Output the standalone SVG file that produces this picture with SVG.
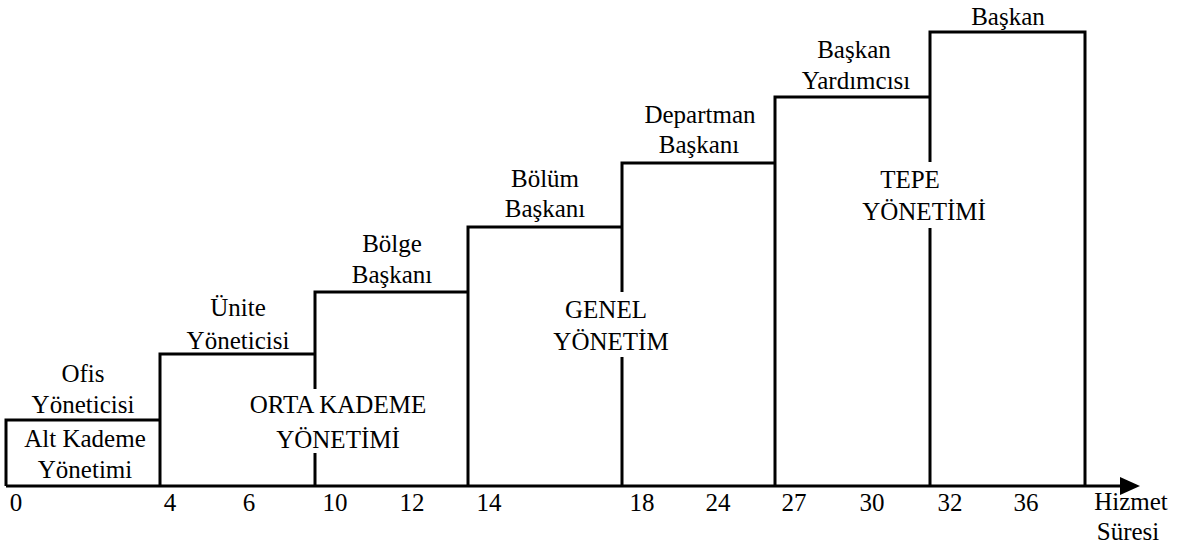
<svg xmlns="http://www.w3.org/2000/svg" width="1177" height="551" viewBox="0 0 1177 551">
  <style>
    .step { fill: none; stroke: #000; stroke-width: 3; stroke-linejoin: miter; }
    text { font-family: 'Liberation Serif', 'Times New Roman', serif; font-size: 25px; fill: #000; text-anchor: middle; }
  </style>
  <defs>
    <marker id="arrow" viewBox="0 0 20 18" refX="0" refY="9" markerWidth="20" markerHeight="18" markerUnits="userSpaceOnUse" orient="auto">
      <path d="M0,0 L20,9 L0,18 Z" fill="#000"/>
    </marker>
  </defs>
  <rect width="1177" height="551" fill="#fff"/>

  <!-- career steps, lowest to highest -->
  <g id="ofis-yoneticisi">
    <path class="step" d="M6,486 V420 H160"/>
    <text x="83" y="382">Ofis</text>
    <text x="83" y="413">Yöneticisi</text>
    <text x="85" y="447">Alt Kademe</text>
    <text x="85" y="478">Yönetimi</text>
  </g>
  <g id="unite-yoneticisi">
    <path class="step" d="M160,486 V354 H315"/>
    <text x="238" y="316">Ünite</text>
    <text x="238" y="349">Yöneticisi</text>
  </g>
  <g id="bolge-baskani">
    <path class="step" d="M315,486 V453 M315,389 V292 H468"/>
    <text x="392" y="252">Bölge</text>
    <text x="392" y="283">Başkanı</text>
    <text x="338" y="413">ORTA KADEME</text>
    <text x="338" y="448">YÖNETİMİ</text>
  </g>
  <g id="bolum-baskani">
    <path class="step" d="M468,486 V227 H622"/>
    <text x="545" y="187">Bölüm</text>
    <text x="545" y="217">Başkanı</text>
  </g>
  <g id="departman-baskani">
    <path class="step" d="M622,486 V357 M622,292 V163 H775"/>
    <text x="700" y="123">Departman</text>
    <text x="699" y="153">Başkanı</text>
    <text x="606" y="318">GENEL</text>
    <text x="611" y="350">YÖNETİM</text>
  </g>
  <g id="baskan-yardimcisi">
    <path class="step" d="M775,486 V97 H930"/>
    <text x="854" y="58">Başkan</text>
    <text x="856" y="89">Yardımcısı</text>
  </g>
  <g id="baskan">
    <path class="step" d="M930,486 V228 M930,162 V32 H1085 V486"/>
    <text x="1008" y="25">Başkan</text>
    <text x="910" y="188">TEPE</text>
    <text x="924" y="220">YÖNETİMİ</text>
  </g>

  <!-- time axis -->
  <g id="connectors">
    <line x1="6" y1="486" x2="1120" y2="486" stroke="#000" stroke-width="3" marker-end="url(#arrow)"/>
  </g>
  <g id="axis-labels">
    <text x="16" y="511">0</text>
    <text x="170" y="511">4</text>
    <text x="249" y="511">6</text>
    <text x="335" y="511">10</text>
    <text x="412" y="511">12</text>
    <text x="489" y="511">14</text>
    <text x="642" y="511">18</text>
    <text x="718" y="511">24</text>
    <text x="794" y="511">27</text>
    <text x="872" y="511">30</text>
    <text x="950" y="511">32</text>
    <text x="1026" y="511">36</text>
    <text x="1131" y="510">Hizmet</text>
    <text x="1128" y="540">Süresi</text>
  </g>
</svg>
